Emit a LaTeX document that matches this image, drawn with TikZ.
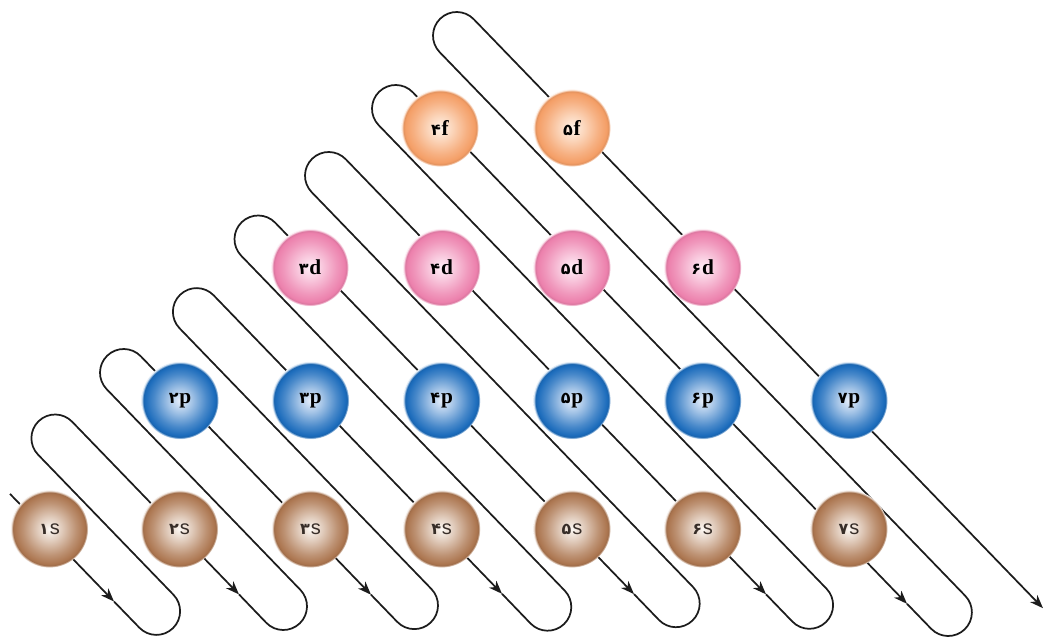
\documentclass[tikz,border=0pt]{standalone}
\usepackage{fontspec}
\setmainfont{Liberation Serif}
\newfontfamily\digfont{DejaVu Sans}
\newfontfamily\sletter{Liberation Sans}
\usetikzlibrary{arrows.meta,calc}

\definecolor{wireC}{RGB}{28,28,28}
\definecolor{sOut}{RGB}{172,118,80}
\definecolor{sIn}{RGB}{252,248,244}
\definecolor{pOut}{RGB}{28,108,188}
\definecolor{pIn}{RGB}{232,240,252}
\definecolor{dOut}{RGB}{236,128,172}
\definecolor{dIn}{RGB}{255,238,247}
\definecolor{fOut}{RGB}{244,158,102}
\definecolor{fIn}{RGB}{255,243,232}
\definecolor{sTxt}{RGB}{55,45,40}

\newcommand\declorb[3]{%
  \pgfdeclareradialshading{#1}{\pgfpointorigin}{%
    color(0bp)=(#2); color(8bp)=(#2!65!#3); color(17bp)=(#3!78!#2);
    color(22.5bp)=(#3); color(23.8bp)=(#3!92!black); color(24.4bp)=(#3!40!white);
    color(25bp)=(#3!8!white); color(50bp)=(white)}}
\declorb{sball}{sIn}{sOut}
\declorb{pball}{pIn}{pOut}
\declorb{dball}{dIn}{dOut}
\declorb{fball}{fIn}{fOut}

\newcommand\numpart[1]{{\digfont\bfseries\fontsize{12}{13}\selectfont #1}\kern0.6pt}
\newcommand\sname[1]{{\color{sTxt}\numpart{#1}{\sletter\fontsize{15}{16}\selectfont s}}}
\newcommand\oname[2]{\numpart{#1}{\fontsize{16}{17}\selectfont\bfseries #2}}
\newcommand\rr{23.7}

\begin{document}
\begin{tikzpicture}[x=0.75pt,y=-0.75pt,
  wire/.style={line width=1.3pt,draw=wireC},
  tipped/.style={wire,-{Stealth[length=10pt,width=7.5pt,inset=3pt]}},
  orb/.style={circle,minimum size=58pt,inner sep=0pt,shade,shading=#1}]
\fill[white] (0,0) rectangle (1046,638);
\useasboundingbox (0,0) rectangle (1046,638);

% U-turn centres, start, end, arrow points
\coordinate (S) at (10,493.9);
\coordinate (E) at (1043,608.2);
\coordinate (BU1) at (156.4,611.2);
\coordinate (BU2) at (283.3,606.3);
\coordinate (BU3) at (414.3,605.4);
\coordinate (BU4) at (547.6,607.0);
\coordinate (BU5) at (676.0,603.5);
\coordinate (BU6) at (809.4,605.1);
\coordinate (BU7) at (948.2,612.3);
\coordinate (TU1) at (55.1,438.2);
\coordinate (TU2) at (123.7,372.7);
\coordinate (TU3) at (196.6,311.8);
\coordinate (TU4) at (258.2,239.2);
\coordinate (TU5) at (328.7,175.7);
\coordinate (TU6) at (395.7,108.7);
\coordinate (TU7) at (456.7,35.7);
\coordinate (A1) at (114,601.5);
\coordinate (A2) at (239,594.4);
\coordinate (A3) at (371,594.7);
\coordinate (A4) at (502,593.8);
\coordinate (A5) at (634,594.1);
\coordinate (A6) at (766,594.3);
\coordinate (A7) at (907,603.8);

\draw[tipped] (S) -- (A1);
\foreach \k [evaluate=\k as \n using int(\k+1)] in {1,...,6}{
  \draw[tipped] (A\k) -- ($(BU\k)+(136:\rr)$) arc[start angle=136,end angle=-44,radius=\rr]
     -- ($(TU\k)+(136:\rr)$) arc[start angle=136,end angle=316,radius=\rr] -- (A\n);
}
\draw[tipped] (A7) -- ($(BU7)+(136:\rr)$) arc[start angle=136,end angle=-44,radius=\rr]
     -- ($(TU7)+(136:\rr)$) arc[start angle=136,end angle=316,radius=\rr] -- (E);

% orbitals
\node[orb=sball] (s1) at (49.5,529) {\sname{۱}};
\node[orb=sball] (s2) at (179.5,529) {\sname{۲}};
\node[orb=sball] (s3) at (310.5,529) {\sname{۳}};
\node[orb=sball] (s4) at (441.7,529) {\sname{۴}};
\node[orb=sball] (s5) at (572,529) {\sname{۵}};
\node[orb=sball] (s6) at (702.7,529) {\sname{۶}};
\node[orb=sball] (s7) at (849,529) {\sname{۷}};
\node[orb=pball] (p2) at (180,400.5) {\oname{۲}{p}};
\node[orb=pball] (p3) at (310.5,400.5) {\oname{۳}{p}};
\node[orb=pball] (p4) at (441.7,400.5) {\oname{۴}{p}};
\node[orb=pball] (p5) at (572,400.5) {\oname{۵}{p}};
\node[orb=pball] (p6) at (702.7,400.5) {\oname{۶}{p}};
\node[orb=pball] (p7) at (849,400.5) {\oname{۷}{p}};
\node[orb=dball] (d3) at (310,267.5) {\oname{۳}{d}};
\node[orb=dball] (d4) at (441.7,267.5) {\oname{۴}{d}};
\node[orb=dball] (d5) at (572,267.5) {\oname{۵}{d}};
\node[orb=dball] (d6) at (702.7,267.5) {\oname{۶}{d}};
\node[orb=fball] (f4) at (440,128) {\oname{۴}{f}};
\node[orb=fball] (f5) at (572,128) {\oname{۵}{f}};
\end{tikzpicture}
\end{document}
